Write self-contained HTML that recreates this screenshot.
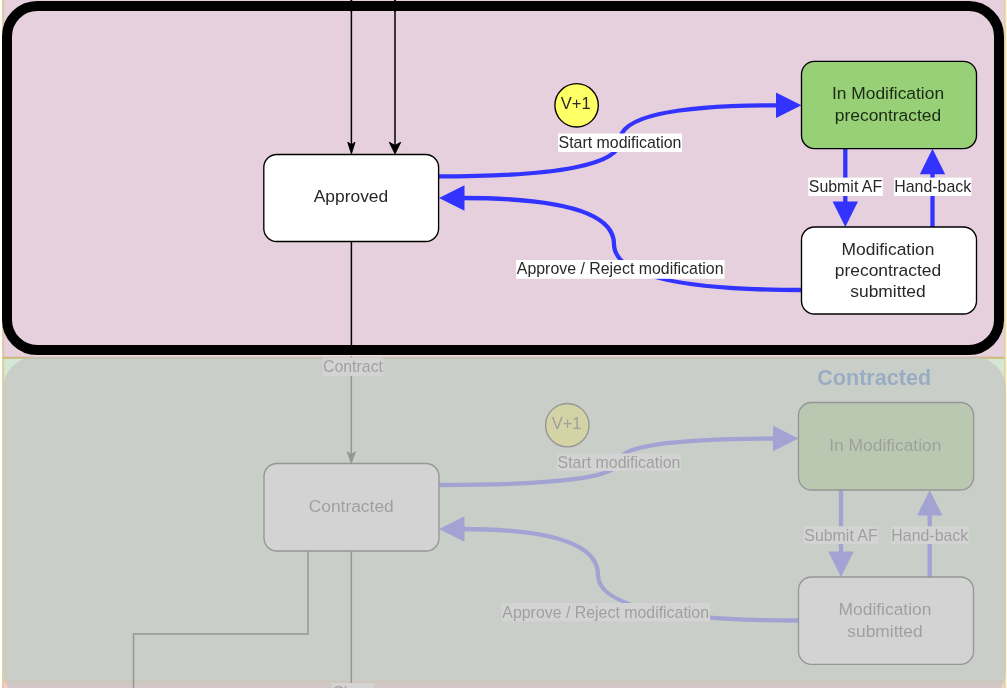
<!DOCTYPE html>
<html lang="en">
<head>
<meta charset="utf-8">
<title>Precontracted state diagram</title>
<style>
html,body{margin:0;padding:0;background:#ffffff;width:1007px;height:688px;overflow:hidden}
svg{display:block;position:absolute;left:0;top:0;will-change:transform;transform:translateZ(0)}
text{font-family:"Liberation Sans",Arial,Helvetica,sans-serif}
.box{font-size:17.4px;text-anchor:middle}
.lbl{font-size:15.9px;text-anchor:middle}
.thin{stroke:#000;stroke-width:1.5;fill:none}
.blue{stroke:#3333ff;stroke-width:4.3;fill:none}
.bluef{fill:#3333ff;stroke:none}
</style>
</head>
<body>
<svg width="1007" height="688" viewBox="0 0 1007 688">
  <!-- section backgrounds -->
  <rect x="0" y="0" width="1007" height="688" fill="#ffffff"/>
  <rect x="1005" y="0" width="2" height="688" fill="#fbf6dc"/>
  <rect x="2.5" y="-5" width="1002" height="362.5" fill="#e6d0de"/>
  <rect x="2.5" y="357.5" width="1002" height="324" fill="#d5e8d4"/>
  <rect x="2.5" y="681.5" width="1002" height="20" fill="#f8cecc"/>
  <!-- section borders -->
  <g stroke="#d6b656" stroke-width="1.4" fill="none" opacity="0.6">
    <line x1="2.8" y1="0" x2="2.8" y2="688"/>
    <line x1="4.1" y1="0" x2="4.1" y2="688" stroke-opacity="0.3"/>
    <line x1="1004.9" y1="0" x2="1004.9" y2="688"/>
    <line x1="2.5" y1="357.7" x2="1004.5" y2="357.7" stroke-width="2" stroke="#c49a38"/>
    <line x1="2.5" y1="681.5" x2="1004.5" y2="681.5"/>
  </g>

  <!-- ===== TOP SECTION ===== -->
  <g id="top">
    <!-- thin edges -->
    <line class="thin" x1="351.4" y1="0" x2="351.4" y2="146"/>
    <path d="M351.4 153.8 L347.8 142.2 L351.4 144.8 L355 142.2 Z" fill="#000" stroke="#000" stroke-width="1"/>
    <line class="thin" x1="395" y1="0" x2="395" y2="146"/>
    <path d="M395 153.8 L389.3 142.3 L395 145.4 L400.7 142.3 Z" fill="#000" stroke="#000" stroke-width="1"/>
    <line class="thin" x1="351.4" y1="241" x2="351.4" y2="357.5"/>

    <!-- blue edges -->
    <path class="blue" d="M438.6 176.4 Q620 176.4 620 140.8 Q620 105.3 778 105.3"/>
    <path class="bluef" d="M801.5 105.3 L776 92.6 L776 118 Z"/>
    <path class="blue" d="M801.5 290 Q614 290 614 244 Q614 198 462 198"/>
    <path class="bluef" d="M439 198 L464.5 185.3 L464.5 210.7 Z"/>
    <line class="blue" x1="845.3" y1="148.5" x2="845.3" y2="204"/>
    <path class="bluef" d="M845.3 227 L832.6 201.5 L858 201.5 Z"/>
    <line class="blue" x1="932.5" y1="227" x2="932.5" y2="172"/>
    <path class="bluef" d="M932.5 148.8 L919.8 174.3 L945.2 174.3 Z"/>

    <!-- boxes -->
    <rect x="263.8" y="154.5" width="174.8" height="87" rx="13" ry="13" fill="#ffffff" stroke="#000" stroke-width="1.35"/>
    <text class="box" x="351" y="202.2" fill="#282828">Approved</text>

    <rect x="801.5" y="61.3" width="175" height="87.3" rx="13" ry="13" fill="#97d077" stroke="#000" stroke-width="1.35"/>
    <text class="box" x="888" y="98.8" fill="#1c2b14">In Modification</text>
    <text class="box" x="888" y="120.6" fill="#1c2b14">precontracted</text>

    <rect x="801.5" y="227" width="175" height="87" rx="13" ry="13" fill="#ffffff" stroke="#000" stroke-width="1.35"/>
    <text class="box" x="888" y="255" fill="#282828">Modification</text>
    <text class="box" x="888" y="276" fill="#282828">precontracted</text>
    <text class="box" x="888" y="297.3" fill="#282828">submitted</text>

    <!-- V+1 -->
    <circle cx="576.6" cy="105.3" r="21.7" fill="#ffff66" stroke="#000" stroke-width="1.35"/>
    <text class="box" x="575.7" y="108.9" fill="#282828" style="font-size:16.5px">V+1</text>

    <!-- labels -->
    <rect x="558" y="133.5" width="124" height="18.5" fill="#ffffff"/>
    <text class="lbl" x="620" y="147.8" fill="#282828">Start modification</text>
    <rect x="516" y="260" width="208.5" height="18.8" fill="#ffffff"/>
    <text class="lbl" x="620.2" y="274" fill="#282828">Approve / Reject modification</text>
    <rect x="808.3" y="177.6" width="74.5" height="18.4" fill="#ffffff"/>
    <text class="lbl" x="845.5" y="191.6" fill="#282828">Submit AF</text>
    <rect x="894" y="177.6" width="77.5" height="18.4" fill="#ffffff"/>
    <text class="lbl" x="932.7" y="191.6" fill="#282828">Hand-back</text>

    <rect x="34" y="355" width="938" height="1.7" fill="#ecd8dc"/>
    <!-- black highlight frame -->
    <rect x="7" y="6" width="992" height="344" rx="30.3" ry="30.3" fill="none" stroke="#000" stroke-width="10"/>
    <line class="thin" x1="351.4" y1="0" x2="351.4" y2="12"/>
    <line class="thin" x1="395" y1="0" x2="395" y2="12"/>
  </g>

  <!-- ===== LOWER SECTION (greyed out) ===== -->
  <g id="low">
    <text x="817.2" y="384.6" font-size="21.6" font-weight="bold" fill="#0a62bc">Contracted</text>

    <line class="thin" x1="351.3" y1="357.5" x2="351.3" y2="456"/>
    <path d="M351.3 463 L347.2 451.8 L351.3 454.4 L355.4 451.8 Z" fill="#000" stroke="#000" stroke-width="1"/>
    <path class="thin" d="M308 551 L308 634 L133.5 634 L133.5 688"/>
    <line class="thin" x1="351.3" y1="551" x2="351.3" y2="688"/>

    <path class="blue" d="M439 485 Q618.5 485 618.5 461.7 Q618.5 438.5 775 438.5"/>
    <path class="bluef" d="M798.5 438.5 L773 425.8 L773 451.2 Z"/>
    <path class="blue" d="M798.5 620.5 Q598 620.5 598 575 Q598 529 462 529"/>
    <path class="bluef" d="M439 529 L464.5 516.3 L464.5 541.7 Z"/>
    <line class="blue" x1="841" y1="490" x2="841" y2="554"/>
    <path class="bluef" d="M841 577 L828.3 551.5 L853.7 551.5 Z"/>
    <line class="blue" x1="929.7" y1="577" x2="929.7" y2="513"/>
    <path class="bluef" d="M929.7 490 L917 515.5 L942.4 515.5 Z"/>

    <rect x="264" y="463.5" width="175" height="87.5" rx="13" ry="13" fill="#ffffff" stroke="#000" stroke-width="1.35"/>
    <text class="box" x="351.2" y="512.3" fill="#282828">Contracted</text>

    <rect x="798.5" y="402.5" width="175.1" height="87.5" rx="13" ry="13" fill="#97d077" stroke="#000" stroke-width="1.35"/>
    <text class="box" x="885.3" y="450.6" fill="#1c2b14">In Modification</text>

    <rect x="798.5" y="577" width="175" height="87.3" rx="13" ry="13" fill="#ffffff" stroke="#000" stroke-width="1.35"/>
    <text class="box" x="885" y="615.2" fill="#282828">Modification</text>
    <text class="box" x="885" y="636.6" fill="#282828">submitted</text>

    <circle cx="567.3" cy="425.2" r="21.7" fill="#ffff40" stroke="#000" stroke-width="1.35"/>
    <text class="box" x="566.6" y="428.9" fill="#282828" style="font-size:16.5px">V+1</text>

    <rect x="322.7" y="357.5" width="60.5" height="18.5" fill="#ffffff"/>
    <text class="lbl" x="353" y="372" fill="#282828">Contract</text>
    <rect x="557" y="453.5" width="124" height="17.5" fill="#ffffff"/>
    <text class="lbl" x="619" y="467.5" fill="#282828">Start modification</text>
    <rect x="501.5" y="603" width="208.5" height="18.5" fill="#ffffff"/>
    <text class="lbl" x="605.7" y="618" fill="#282828">Approve / Reject modification</text>
    <rect x="803.8" y="526.3" width="74.5" height="17.7" fill="#ffffff"/>
    <text class="lbl" x="841" y="540.6" fill="#282828">Submit AF</text>
    <rect x="891" y="526.3" width="77.7" height="17.7" fill="#ffffff"/>
    <text class="lbl" x="929.8" y="540.6" fill="#282828">Hand-back</text>
    <rect x="331.5" y="683" width="42.5" height="18" fill="#ffffff"/>
    <text class="lbl" x="352.7" y="697.5" fill="#282828">Close</text>

    <!-- grey overlay -->
    <rect x="3.2" y="356.8" width="1002.5" height="346" rx="32" ry="32" fill="#c5c5c5" fill-opacity="0.76"/>
  </g>
</svg>
</body>
</html>
